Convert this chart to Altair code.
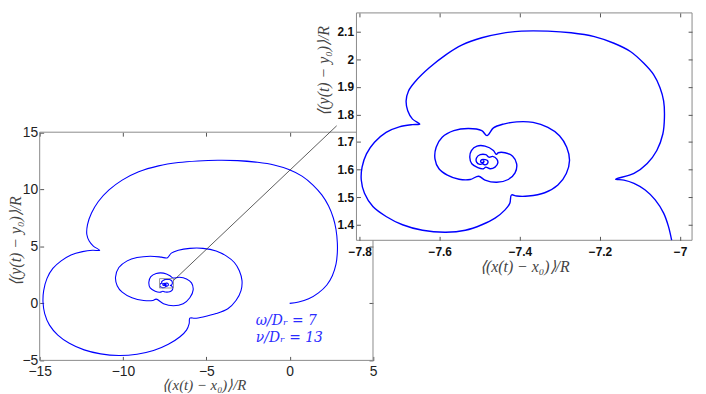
import altair as alt
import pandas as pd

# ---------------- data ----------------
# outer part of the trajectory (main panel reading)
outer_x = [0.0, 0.54, 1.14, 1.73, 2.23, 2.56, 2.78, 2.86, 2.86, 2.78, 2.62, 2.33, 1.93, 1.40, 0.74,
           -0.05, -0.94, -1.93, -3.12, -4.31, -5.50, -6.68, -7.87, -9.06, -10.05, -10.84, -11.48,
           -11.89, -12.13, -12.17, -12.03, -11.78, -11.40,
           -11.83, -12.43, -13.12, -13.71, -14.21, -14.56, -14.76, -14.80, -14.70, -14.41, -13.91,
           -13.22, -12.33, -11.34, -10.25, -9.16, -8.17, -7.28, -6.58, -6.19, -6.03, -5.99,
           -5.69, -5.20, -4.41, -3.71, -3.22, -2.92, -2.86, -3.02, -3.32, -3.81, -4.41, -5.20,
           -5.99, -6.68, -7.10, -7.35,
           -7.70, -8.37, -9.16, -9.75, -10.25, -10.45, -10.35, -10.05, -9.46, -8.76, -8.21, -8.01,
           -7.57, -6.98, -6.39, -5.99, -5.79, -5.89, -6.19, -6.62, -7.00,
           -7.18, -7.57, -8.01, -8.33, -8.45, -8.37, -8.07, -7.77, -7.61]
outer_y = [0.0, 0.11, 0.40, 0.92, 1.61, 2.42, 3.43, 4.45, 5.31, 6.47, 7.48, 8.55, 9.50, 10.37, 11.15,
           11.73, 12.13, 12.36, 12.51, 12.54, 12.48, 12.34, 12.05, 11.53, 10.80, 9.94, 8.93,
           7.91, 6.90, 6.03, 5.46, 5.02, 4.65,
           4.65, 4.53, 4.24, 3.72, 3.06, 2.19, 1.12, 0.11, -0.90, -1.91, -2.78,
           -3.50, -4.08, -4.43, -4.57, -4.46, -4.14, -3.59, -2.93, -2.35, -1.77, -1.30,
           -1.31, -1.19, -0.90, -0.47, 0.25, 1.12, 1.99, 2.86, 3.58, 4.16, 4.59, 4.82,
           4.82, 4.65, 4.40, 3.98,
           4.05, 4.13, 4.01, 3.72, 3.14, 2.28, 1.55, 0.98, 0.49, 0.25, 0.25, 0.37,
           -0.03, -0.21, -0.03, 0.49, 1.18, 1.79, 2.13, 2.28, 2.22,
           2.42, 2.65, 2.62, 2.34, 1.84, 1.35, 1.06, 0.98, 1.06]

# short piece joining the outer part to the zoomed part
link_x = [-7.45, -7.28, -7.13, -7.04, -7.016]
link_y = [0.99, 0.99, 1.06, 1.18, 1.30]

# inner part of the trajectory (inset reading)
inner_x = [-7.021, -7.029, -7.041, -7.062, -7.087, -7.115, -7.140, -7.161,
           -7.115, -7.082, -7.058, -7.043, -7.039, -7.041, -7.050, -7.066, -7.091, -7.124,
           -7.165, -7.214, -7.272, -7.330, -7.396, -7.445, -7.495, -7.544, -7.585, -7.627,
           -7.660, -7.678, -7.684, -7.680, -7.668, -7.650,
           -7.668, -7.701, -7.734, -7.763, -7.783, -7.794, -7.796, -7.788, -7.767, -7.734,
           -7.693, -7.643, -7.585, -7.536, -7.495, -7.462, -7.437, -7.425, -7.421,
           -7.408, -7.379, -7.338, -7.305, -7.284, -7.276, -7.283, -7.301, -7.330, -7.367,
           -7.408, -7.441, -7.466, -7.482,
           -7.495, -7.528, -7.565, -7.594, -7.609, -7.612, -7.602, -7.581, -7.552, -7.524, -7.503,
           -7.487, -7.458, -7.429, -7.412, -7.408, -7.418, -7.437, -7.454, -7.459,
           -7.466, -7.487, -7.507, -7.521, -7.525, -7.520, -7.505, -7.491, -7.485,
           -7.474, -7.462, -7.455, -7.458, -7.468, -7.477,
           -7.485, -7.499, -7.508, -7.508, -7.500, -7.493,
           -7.487, -7.480, -7.481, -7.487, -7.495, -7.498, -7.495, -7.491, -7.490, -7.493]
inner_y = [1.344, 1.394, 1.442, 1.490, 1.526, 1.550, 1.562, 1.565,
           1.586, 1.622, 1.669, 1.729, 1.789, 1.849, 1.897, 1.944, 1.986, 2.028,
           2.058, 2.082, 2.096, 2.102, 2.102, 2.094, 2.078, 2.052, 2.016, 1.968,
           1.921, 1.885, 1.849, 1.813, 1.783, 1.765,
           1.763, 1.755, 1.735, 1.699, 1.657, 1.609, 1.562, 1.514, 1.466, 1.430,
           1.400, 1.380, 1.373, 1.380, 1.400, 1.424, 1.454, 1.478, 1.508,
           1.504, 1.504, 1.516, 1.544, 1.586, 1.633, 1.681, 1.723, 1.753, 1.771,
           1.773, 1.765, 1.751, 1.723,
           1.741, 1.749, 1.741, 1.717, 1.681, 1.639, 1.603, 1.580, 1.565, 1.564, 1.576,
           1.562, 1.554, 1.564, 1.588, 1.621, 1.648, 1.661, 1.661, 1.655,
           1.669, 1.685, 1.685, 1.669, 1.645, 1.621, 1.607, 1.603, 1.609,
           1.603, 1.609, 1.624, 1.639, 1.648, 1.645,
           1.654, 1.654, 1.643, 1.627, 1.619, 1.621,
           1.617, 1.624, 1.633, 1.636, 1.636, 1.629, 1.625, 1.626, 1.631, 1.632]

main_xlim = [-15, 5]
main_ylim = [-5, 15]
inset_xlim = [-7.808, -6.970]
inset_ylim = [1.3436, 2.168]

main_xticks = [-15, -10, -5, 0, 5]
main_yticks = [-5, 0, 5, 10, 15]
inset_xticks = [-7.8, -7.6, -7.4, -7.2, -7.0]
inset_yticks = [1.4, 1.5, 1.6, 1.7, 1.8, 1.9, 2.0, 2.1]

link_start = [-6.97, 2.0]
link_end = [2.82, 15.56]

labels = ["ω/Dᵣ = 7", "ν/Dᵣ = 13"]
label_x = [-2.03, -2.03]
label_y = [-1.55, -3.03]

xtitle = "⟨(x(t) − x₀)⟩/R"
ytitle = "⟨(y(t) − y₀)⟩/R"

# ---------------- layout ----------------
W, H = 659, 351
MX = [0, 336.7]
MY = [351, 120.5]
IX = [320, 659]
IY = [229.7, 0]
TS = 4
FRAME = "#8a8a8a"
TICK = "#555555"
TFONT = "Liberation Serif"


def msx():
    return alt.Scale(domain=main_xlim, range=MX, nice=False, zero=False)


def msy():
    return alt.Scale(domain=main_ylim, range=MY, nice=False, zero=False)


def isx():
    return alt.Scale(domain=inset_xlim, range=IX, nice=False, zero=False)


def isy():
    return alt.Scale(domain=inset_ylim, range=IY, nice=False, zero=False)


def tick_axis(orient, offset, values, z=0):
    return alt.Axis(orient=orient, offset=offset, values=values, labels=False, title=None,
                    tickSize=TS, tickColor=TICK, domain=False, grid=False, zindex=z)


main_curve = pd.DataFrame({"x": outer_x + link_x + inner_x, "y": outer_y + link_y + inner_y})
main_curve["i"] = range(len(main_curve))
inset_curve = pd.DataFrame({"x": inner_x, "y": inner_y})
inset_curve["i"] = range(len(inset_curve))

mframe = pd.DataFrame({"x0": [main_xlim[0]], "x1": [main_xlim[1]], "y0": [main_ylim[0]], "y1": [main_ylim[1]]})
iframe = pd.DataFrame({"x0": [inset_xlim[0]], "x1": [inset_xlim[1]], "y0": [inset_ylim[0]], "y1": [inset_ylim[1]]})
linkdf = pd.DataFrame({"x": [link_start[0]], "y": [link_start[1]], "x2": [link_end[0]], "y2": [link_end[1]]})
textdf = pd.DataFrame({"x": label_x, "y": label_y, "t": labels})

# main frame with top/right inward ticks
l_mframe = alt.Chart(mframe).mark_rect(fillOpacity=0, stroke=FRAME, strokeWidth=1).encode(
    x=alt.X("x0:Q", scale=msx(), axis=tick_axis("top", -(MY[1] + TS), main_xticks)),
    x2="x1:Q",
    y=alt.Y("y0:Q", scale=msy(), axis=tick_axis("right", (MX[1] - TS) - W, main_yticks)),
    y2="y1:Q",
)

l_mcurve = alt.Chart(main_curve).mark_line(color="#0000ff", strokeWidth=1.1, interpolate="catmull-rom").encode(
    x=alt.X("x:Q", scale=msx(), axis=alt.Axis(
        orient="bottom", offset=-TS, values=main_xticks, format="d", tickSize=TS, tickColor=TICK,
        domain=False, grid=False, labelFont="Liberation Sans", labelFontSize=14, labelColor="#222",
        labelPadding=4, labelFlush=False, labelOverlap=False, labelBound=False,
        title=xtitle, titleFont=TFONT, titleFontStyle="italic", titleFontWeight="normal",
        titleFontSize=15, titleColor="#444", titleX=165.5, titleY=28.5, titleBaseline="middle",
        titleAlign="center")),
    y=alt.Y("y:Q", scale=msy(), axis=alt.Axis(
        orient="left", offset=-TS, values=main_yticks, format="d", tickSize=TS, tickColor=TICK,
        domain=False, grid=False, labelFont="Liberation Sans", labelFontSize=14, labelColor="#222",
        labelPadding=2, labelFlush=False, labelOverlap=False, labelBound=False,
        title=ytitle, titleFont=TFONT, titleFontStyle="italic", titleFontWeight="normal",
        titleFontSize=16, titleColor="#444", titleX=-28, titleY=230, titleBaseline="middle",
        titleAlign="center", titleAngle=270)),
    order="i:Q",
)

l_box = alt.Chart(iframe).mark_rect(fillOpacity=0, stroke="#999999", strokeWidth=1).encode(
    x=alt.X("x0:Q", scale=msx(), axis=None), x2="x1:Q",
    y=alt.Y("y0:Q", scale=msy(), axis=None), y2="y1:Q",
)

l_link = alt.Chart(linkdf).mark_rule(color="#333333", strokeWidth=0.8).encode(
    x=alt.X("x:Q", scale=msx(), axis=None), x2="x2:Q",
    y=alt.Y("y:Q", scale=msy(), axis=None), y2="y2:Q",
)

l_text = alt.Chart(textdf).mark_text(align="left", baseline="middle", font="DejaVu Serif",
                                      fontStyle="italic", fontSize=14, color="#2b2bff").encode(
    x=alt.X("x:Q", scale=msx(), axis=None),
    y=alt.Y("y:Q", scale=msy(), axis=None),
    text="t:N",
)

l_iframe = alt.Chart(iframe).mark_rect(fill="white", stroke=FRAME, strokeWidth=1).encode(
    x=alt.X("x0:Q", scale=isx(), axis=tick_axis("top", -TS, inset_xticks, 1)),
    x2="x1:Q",
    y=alt.Y("y0:Q", scale=isy(), axis=tick_axis("right", -TS, inset_yticks, 1)),
    y2="y1:Q",
)

l_icurve = alt.Chart(inset_curve).mark_line(color="#0000ff", strokeWidth=1.4, interpolate="catmull-rom").encode(
    x=alt.X("x:Q", scale=isx(), axis=alt.Axis(
        orient="bottom", offset=(IY[0] - TS) - H, values=inset_xticks, format=".1~f", tickSize=TS,
        tickColor=TICK, domain=False, grid=False, labelFont="Liberation Sans", labelFontSize=12,
        labelFontWeight="bold", labelColor="#111", labelPadding=6, labelFlush=False,
        labelOverlap=False, labelBound=False, zindex=1,
        title=xtitle, titleFont=TFONT, titleFontStyle="italic", titleFontWeight="normal",
        titleFontSize=16, titleColor="#444", titleX=489.5, titleY=31, titleBaseline="middle",
        titleAlign="center")),
    y=alt.Y("y:Q", scale=isy(), axis=alt.Axis(
        orient="left", offset=-(IX[0] + TS), values=inset_yticks, format=".1~f", tickSize=TS,
        tickColor=TICK, domain=False, grid=False, labelFont="Liberation Sans", labelFontSize=12,
        labelFontWeight="bold", labelColor="#111", labelPadding=3, labelFlush=False,
        labelOverlap=False, labelBound=False, zindex=1,
        title=ytitle, titleFont=TFONT, titleFontStyle="italic", titleFontWeight="normal",
        titleFontSize=16, titleColor="#444", titleX=-37, titleY=58, titleBaseline="middle",
        titleAlign="center", titleAngle=270)),
    order="i:Q",
)

chart = alt.layer(l_mframe, l_mcurve, l_box, l_link, l_text, l_iframe, l_icurve).resolve_scale(
    x="independent", y="independent"
).resolve_axis(
    x="independent", y="independent"
).properties(
    width=W, height=H,
    padding={"left": 32, "top": 3, "right": 6, "bottom": 32},
    autosize=alt.AutoSizeParams(type="none"),
    background="white",
).configure_view(stroke=None)

chart.save("out.html", embed_options={"renderer": "svg", "actions": False})
